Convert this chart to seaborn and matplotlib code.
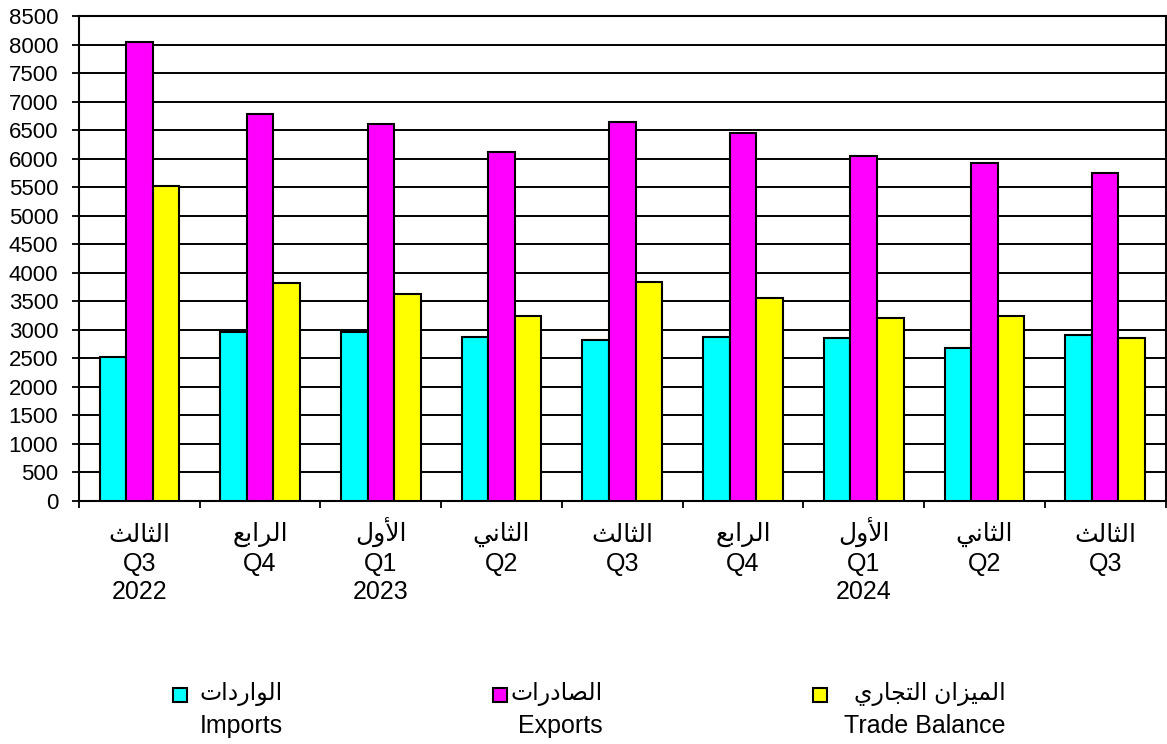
import numpy as np
import pandas as pd
import matplotlib
matplotlib.use("Agg")
import matplotlib.pyplot as plt
import matplotlib.patches as mpatches
import seaborn as sns

# ---------------- data ----------------
periods = ["2022Q3", "2022Q4", "2023Q1", "2023Q2", "2023Q3",
           "2023Q4", "2024Q1", "2024Q2", "2024Q3"]
quarter_ar = ["الثالث", "الرابع", "الأول", "الثاني", "الثالث",
              "الرابع", "الأول", "الثاني", "الثالث"]
quarter_en = ["Q3", "Q4", "Q1", "Q2", "Q3", "Q4", "Q1", "Q2", "Q3"]
year_lbl = ["2022", "", "2023", "", "", "", "2024", "", ""]

imports = [2520, 2960, 2960, 2870, 2810, 2870, 2850, 2680, 2900]
exports = [8050, 6780, 6600, 6110, 6640, 6440, 6050, 5930, 5750]
balance = [5520, 3820, 3630, 3240, 3830, 3560, 3200, 3240, 2850]

series_en = ["Imports", "Exports", "Trade Balance"]
series_ar = ["الواردات", "الصادرات", "الميزان التجاري"]
colors = ["#00FFFF", "#FF00FF", "#FFFF00"]

yticks = list(range(0, 8501, 500))

# ------------- minimal Arabic shaping (presentation forms, visual order) -------------
FORMS = {
    '\u0627': ('\uFE8D', '\uFE8E', None, None),
    '\u0623': ('\uFE83', '\uFE84', None, None),
    '\u0628': ('\uFE8F', '\uFE90', '\uFE91', '\uFE92'),
    '\u062A': ('\uFE95', '\uFE96', '\uFE97', '\uFE98'),
    '\u062B': ('\uFE99', '\uFE9A', '\uFE9B', '\uFE9C'),
    '\u062C': ('\uFE9D', '\uFE9E', '\uFE9F', '\uFEA0'),
    '\u062F': ('\uFEA9', '\uFEAA', None, None),
    '\u0631': ('\uFEAD', '\uFEAE', None, None),
    '\u0632': ('\uFEAF', '\uFEB0', None, None),
    '\u0635': ('\uFEB9', '\uFEBA', '\uFEBB', '\uFEBC'),
    '\u0639': ('\uFEC9', '\uFECA', '\uFECB', '\uFECC'),
    '\u0644': ('\uFEDD', '\uFEDE', '\uFEDF', '\uFEE0'),
    '\u0645': ('\uFEE1', '\uFEE2', '\uFEE3', '\uFEE4'),
    '\u0646': ('\uFEE5', '\uFEE6', '\uFEE7', '\uFEE8'),
    '\u0648': ('\uFEED', '\uFEEE', None, None),
    '\u064A': ('\uFEF1', '\uFEF2', '\uFEF3', '\uFEF4'),
    'LA': ('\uFEFB', '\uFEFC', None, None),
    'LAH': ('\uFEF7', '\uFEF8', None, None),
}


def shape(s):
    toks = []
    i = 0
    while i < len(s):
        c = s[i]
        if c == '\u0644' and i + 1 < len(s) and s[i + 1] in ('\u0627', '\u0623'):
            toks.append('LA' if s[i + 1] == '\u0627' else 'LAH')
            i += 2
        else:
            toks.append(c)
            i += 1
    out = []
    for k, t in enumerate(toks):
        if t not in FORMS:
            out.append(t)
            continue
        f = FORMS[t]
        prev = toks[k - 1] if k > 0 else None
        nxt = toks[k + 1] if k + 1 < len(toks) else None
        pj = prev in FORMS and FORMS[prev][2] is not None
        nj = f[2] is not None and nxt in FORMS
        if pj and nj:
            g = f[3]
        elif pj:
            g = f[1]
        elif nj:
            g = f[2]
        else:
            g = f[0]
        out.append(g)
    return ''.join(reversed(out))


# ---------------- plot ----------------
sns.set_style("white")
FAM = ['Liberation Sans', 'DejaVu Sans']
plt.rcParams['font.family'] = FAM
plt.rcParams['text.color'] = 'black'
plt.rcParams['xtick.color'] = 'black'
plt.rcParams['ytick.color'] = 'black'
plt.rcParams['xtick.labelcolor'] = 'black'
plt.rcParams['ytick.labelcolor'] = 'black'

df = pd.DataFrame({
    "period": periods * 3,
    "series": sum([[s] * len(periods) for s in series_en], []),
    "value": imports + exports + balance,
})

W, H = 1167, 744
fig = plt.figure(figsize=(W / 100, H / 100), dpi=100)
ax = fig.add_axes([79 / W, 1 - 500.7 / H, (1165.5 - 79) / W, (500.7 - 16) / H])

sns.barplot(data=df, x="period", y="value", hue="series", order=periods,
            hue_order=series_en, palette=colors, saturation=1, width=0.66,
            edgecolor="black", linewidth=1.5, legend=False, ax=ax, zorder=3)

ax.set_xlim(-0.5, len(periods) - 0.5)
ax.set_ylim(0, 8500)
ax.set_yticks(yticks)
ax.set_yticklabels([str(v) for v in yticks])
ax.yaxis.grid(True, color="black", linewidth=1.4, zorder=0)
ax.xaxis.grid(False)
ax.set_axisbelow(True)
ax.set_xlabel("")
ax.set_ylabel("")

for sp in ax.spines.values():
    sp.set_visible(True)
    sp.set_color("black")
    sp.set_linewidth(1.5)

ax.tick_params(axis="y", which="major", left=True, length=5, width=1.3,
               direction="out", color="black", pad=10, labelsize=16,
               labelcolor="black")

# three-line labels (year line blank where absent) aligned on last baseline
xt_labels = []
for a, q, y in zip(quarter_ar, quarter_en, year_lbl):
    xt_labels.append(shape(a) + "\n" + q + "\n" + (y if y else " "))
ax.set_xticks(range(len(periods)))
ax.set_xticklabels(xt_labels, fontsize=18, linespacing=1.25, va="baseline",
                   color="black")
ax.tick_params(axis="x", which="major", length=0, pad=71)
ax.set_xticks(np.arange(-0.5, len(periods), 1.0), minor=True)
ax.tick_params(axis="x", which="minor", bottom=True, length=5, width=1.3,
               direction="out", color="black")

# ---------------- legend ----------------
sq_left = [173, 493, 813]
txt_right = [283, 603, 1006]
for i in range(3):
    rect = mpatches.Rectangle((sq_left[i] / W, 1 - 702 / H), 14 / W, 14 / H,
                              transform=fig.transFigure, facecolor=colors[i],
                              edgecolor="black", linewidth=1.5)
    fig.patches.append(rect)
    fig.text(txt_right[i] / W, 1 - 694 / H, shape(series_ar[i]), ha="right",
             va="center", fontsize=17, family=FAM, color="black")
    fig.text(txt_right[i] / W, 1 - 726 / H, series_en[i], ha="right",
             va="center", fontsize=18, family=FAM, color="black")

fig.savefig("out.png", dpi=100, facecolor="white")
